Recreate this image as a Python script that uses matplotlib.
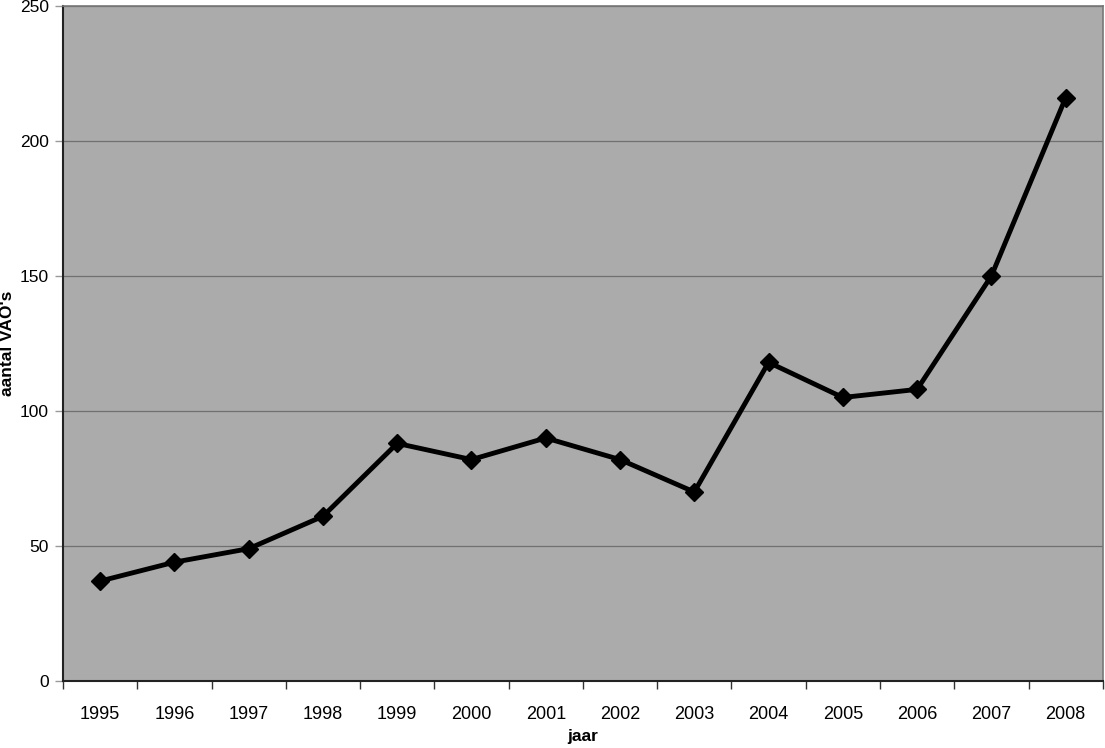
import matplotlib
matplotlib.use('Agg')
import matplotlib.pyplot as plt
import matplotlib.transforms as mtransforms
import numpy as np

plt.rcParams['font.family'] = ['Liberation Sans', 'DejaVu Sans']

years = ['1995', '1996', '1997', '1998', '1999', '2000', '2001',
         '2002', '2003', '2004', '2005', '2006', '2007', '2008']
vaos = [37, 44, 49, 61, 88, 82, 90, 82, 70, 118, 105, 108, 150, 216]

fig = plt.figure(figsize=(11.05, 7.48), dpi=100)
ax = fig.add_axes([0.057, 0.0896, 0.941, 0.9024])
ax.set_facecolor('#ababab')

x = np.arange(len(years))
ax.plot(x, vaos, color='black', lw=3.5, marker='D', ms=9, zorder=3)

ax.set_xlim(-0.5, len(years) - 0.5)
ax.set_ylim(0, 250)
ax.set_yticks(range(0, 251, 50))
ax.yaxis.grid(True, color='#707070', lw=0.9)
ax.set_axisbelow(True)

ax.set_xticks(x)
ax.set_xticklabels(years, fontsize=13)
ax.set_xticks(np.arange(-0.5, len(years)), minor=True)
ax.tick_params(axis='x', which='major', length=0, pad=18)
ax.tick_params(axis='x', which='minor', length=6, width=1, color='#333333')
ax.tick_params(axis='y', length=6, width=1, color='#999999', labelsize=12.5, pad=4)

for s in ['left', 'bottom']:
    ax.spines[s].set_color('#222222')
    ax.spines[s].set_linewidth(1.5)
for s in ['top', 'right']:
    ax.spines[s].set_color('#777777')
    ax.spines[s].set_linewidth(1.2)

ax.set_xlabel('jaar', fontsize=12.5, fontweight='bold', labelpad=4)
ax.set_ylabel("aantal VAO's", fontsize=12.5, fontweight='bold')
trans = mtransforms.blended_transform_factory(fig.transFigure, ax.transAxes)
ax.yaxis.set_label_coords(8 / 1105, 0.5, transform=trans)
ax.yaxis.label.set_va('center')

fig.savefig('out.png', dpi=100)
